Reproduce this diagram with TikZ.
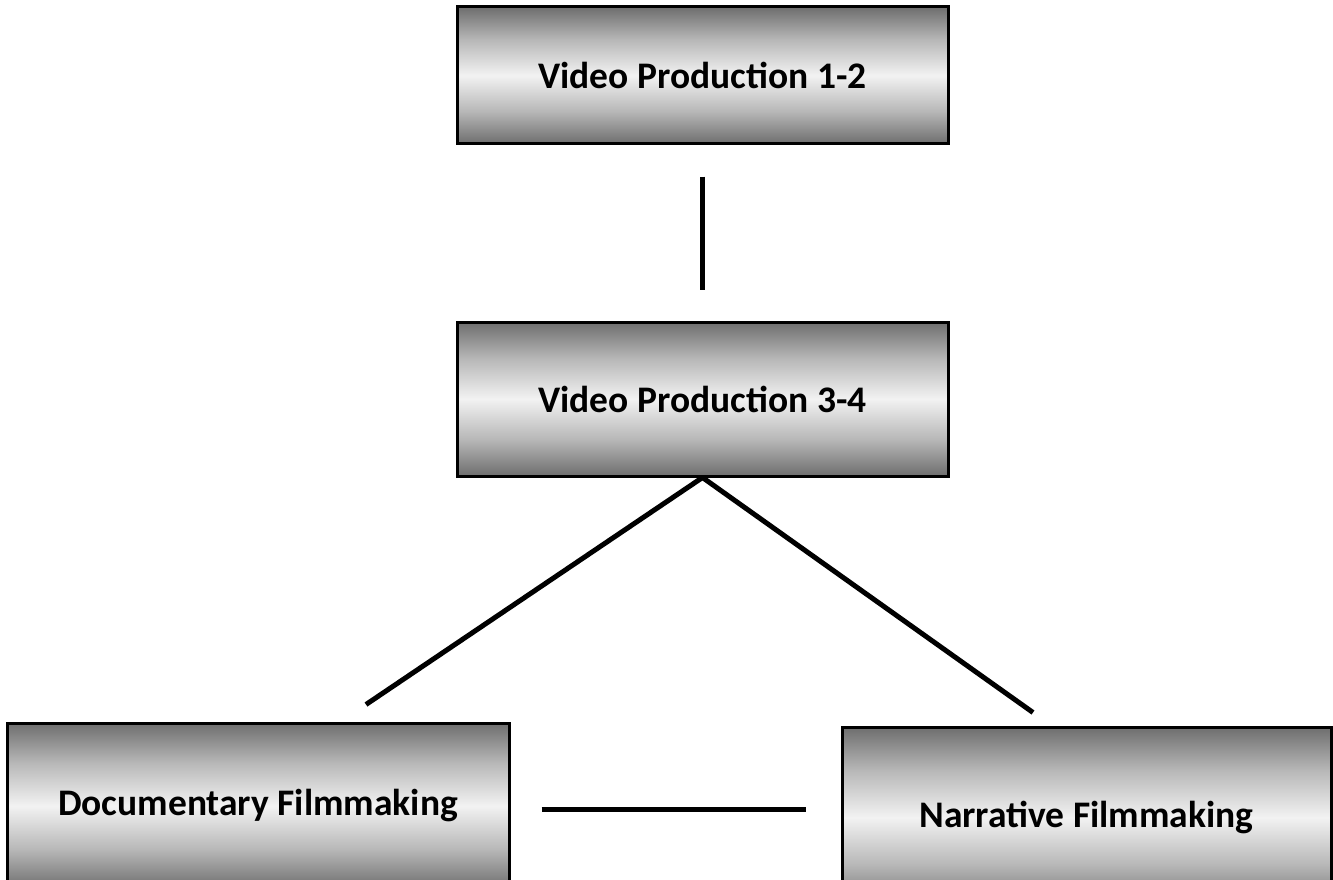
\documentclass[tikz,border=0pt]{standalone}
\usepackage{fontspec}
\setmainfont{Carlito}
\usetikzlibrary{calc}

% chrome-like vertical gradient for the course boxes
% (the node box covers the 25bp..75bp band of the shading)
\definecolor{sdark}{gray}{0.43}
\definecolor{smid}{gray}{0.72}
\definecolor{slight}{gray}{0.95}
\pgfdeclareverticalshading{chrome}{100bp}{%
  color(0bp)=(sdark); color(25bp)=(sdark); color(37bp)=(smid);
  color(50bp)=(slight); color(63bp)=(smid); color(75bp)=(sdark);
  color(100bp)=(sdark)}

\begin{document}
\begin{tikzpicture}[x=1pt,y=-1pt,
  box/.style={rectangle, draw=black, line width=3pt, shading=chrome,
    inner sep=0pt, align=center,
    font=\bfseries\fontsize{37.5}{44}\selectfont},
  conn/.style={line width=5pt, black}]
\useasboundingbox (0,0) rectangle (1333,880);

\node[box, minimum width=491pt, minimum height=137pt] (vp12) at (702.5,75.5) {Video Production 1-2};
\node[box, minimum width=491pt, minimum height=154pt] (vp34) at (702.5,399) {Video Production 3-4};
\node[box, minimum width=502pt, minimum height=166pt] (doc) at (258,806) {Documentary Filmmaking};
\node[box, minimum width=489pt, minimum height=181pt] (nar) at (1086.5,817.5) {Narrative Filmmaking};

% connectors between the courses
\draw[conn, shorten <=31pt, shorten >=31pt] (vp12) -- (vp34);
\draw[conn] (vp34.south) -- ([shift={(108,-17)}]doc.north);
\draw[conn] (vp34.south) -- ([shift={(-53.5,-13)}]nar.north);
\draw[conn] ([shift={(31,3.5)}]doc.east) -- ([shift={(-35,-8)}]nar.west);
\end{tikzpicture}
\end{document}
